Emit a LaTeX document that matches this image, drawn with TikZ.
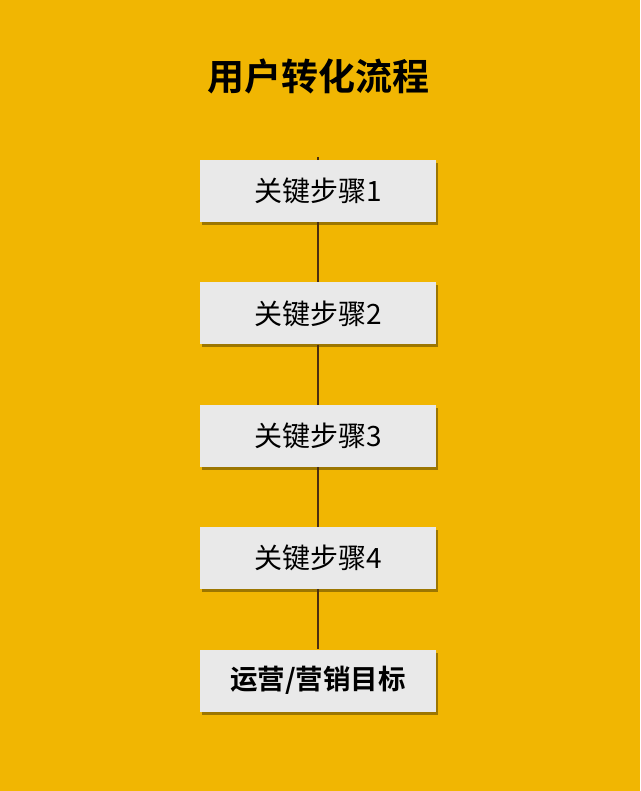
\documentclass[tikz,border=0pt]{standalone}
\usepackage{fontspec}
\newfontfamily\cjk{Noto Sans CJK SC}
\newfontfamily\cjkbold{Noto Sans CJK SC Bold}
\usetikzlibrary{positioning}
\usetikzlibrary{shadows}

\definecolor{bggold}{HTML}{F1B602}
\definecolor{boxgrey}{HTML}{E9E9E9}
\definecolor{linebrown}{HTML}{4A2E10}

\begin{document}
\begin{tikzpicture}[x=1pt,y=-1pt,node distance=60pt,
	step box/.style={rectangle,fill=boxgrey,minimum width=236pt,minimum height=62pt,
		inner sep=0pt,font=\cjk\fontsize{28}{28}\selectfont,
		drop shadow={shadow xshift=2pt,shadow yshift=-3pt,fill=black,opacity=0.35}}]
	\fill[bggold] (0,0) rectangle (640,791);
	\useasboundingbox (0,0) rectangle (640,791);
	
	\node[font=\cjkbold\fontsize{37}{37}\selectfont] (title) at (318,76) {用户转化流程};
	
	\coordinate (top) at (318,157);
	\node[step box] (s1) at (318,191) {关键步骤1};
	\node[step box] (s2) [below=of s1] {关键步骤2};
	\node[step box] (s3) [below=of s2] {关键步骤3};
	\node[step box] (s4) [below=of s3] {关键步骤4};
	\node[step box,font=\cjkbold\fontsize{27.5}{27.5}\selectfont] (goal) [below=of s4] {运营/营销目标};
	
	\draw[linebrown,line width=1.4pt] (top) -- (s1.north);
	\foreach \a/\b in {s1/s2,s2/s3,s3/s4,s4/goal}
		\draw[linebrown,line width=1.4pt] (\a.south) -- (\b.north);
\end{tikzpicture}
\end{document}
